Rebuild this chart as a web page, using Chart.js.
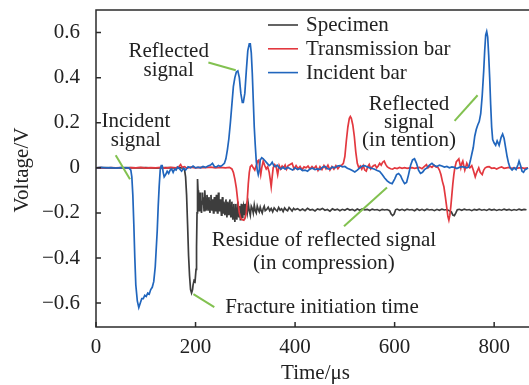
<!DOCTYPE html>
<html>
<head>
<meta charset="utf-8">
<script src="https://cdn.jsdelivr.net/npm/chart.js@4.4.1/dist/chart.umd.min.js"></script>
<style>
  html, body { margin: 0; padding: 0; background: #fff; }
  #wrap { width: 529px; height: 385px; position: relative; }
</style>
</head>
<body>
<div id="wrap"><canvas id="myChart"></canvas></div>
<script>
// series names in legend order
const seriesNames = ['Specimen', 'Transmission bar', 'Incident bar']

const xTicks = [0, 200, 400, 600, 800]
const yTicks = [-0.6, -0.4, -0.2, 0, 0.2, 0.4, 0.6]

// [time (us), voltage (V)]
const specimen = [
  [0,0],[20,0.001],[40,-0.001],[60,0.001],[80,0],[100,0.001],[120,-0.001],[140,0.001],[160,0],[170,0.001],[175,0],
  [178,-0.01],[180,-0.04],[182,-0.12],[184,-0.25],[186,-0.39],[188,-0.48],[190,-0.54],[192,-0.555],[194,-0.54],
  [195,-0.52],[197,-0.5],[199,-0.505],[201,-0.45],[202,-0.35],[203,-0.2],
  [204,-0.05],[205,-0.1],[206,-0.17],[207,-0.19],[208,-0.14],[209,-0.11],[210,-0.13],[211,-0.18],[212,-0.2],[213,-0.15],
  [214,-0.11],[215,-0.16],[216,-0.13],[217,-0.19],[218,-0.14],[219,-0.1],[220,-0.15],[221,-0.19],[222,-0.17],[223,-0.12],
  [224,-0.14],[225,-0.19],[226,-0.16],[227,-0.13],[228,-0.18],[229,-0.2],[230,-0.15],[231,-0.12],[232,-0.16],[233,-0.19],
  [234,-0.14],[235,-0.17],[236,-0.2],[237,-0.15],[238,-0.13],[239,-0.17],[240,-0.19],[241,-0.15],[242,-0.12],[243,-0.17],
  [244,-0.2],[245,-0.16],[246,-0.11],[247,-0.15],[248,-0.19],[249,-0.17],[250,-0.14],[251,-0.18],[252,-0.21],[253,-0.16],
  [254,-0.13],[255,-0.18],[256,-0.2],[257,-0.15],[258,-0.17],[259,-0.21],[260,-0.18],[261,-0.14],[262,-0.17],[263,-0.22],
  [264,-0.19],[265,-0.15],[266,-0.18],[267,-0.21],[268,-0.16],[269,-0.14],[270,-0.19],[271,-0.22],[272,-0.17],[273,-0.15],
  [274,-0.2],[275,-0.23],[276,-0.18],[277,-0.16],[278,-0.2],[279,-0.24],[280,-0.19],[281,-0.16],[282,-0.21],[283,-0.23],
  [284,-0.18],[285,-0.15],[286,-0.2],[287,-0.22],[288,-0.17],[289,-0.19],[290,-0.23],[291,-0.2],[292,-0.16],[293,-0.19],
  [294,-0.22],[295,-0.18],[296,-0.17],[297,-0.21],[298,-0.19],[299,-0.16],[300,-0.2],
  [302,-0.17],[304,-0.2],[306,-0.16],[308,-0.19],[310,-0.21],[312,-0.17],[314,-0.18],[316,-0.2],[318,-0.165],[320,-0.19],
  [322,-0.2],[324,-0.17],[326,-0.185],[328,-0.195],[330,-0.175],[332,-0.19],[334,-0.2],[336,-0.18],[338,-0.17],[340,-0.19],
  [343,-0.185],[346,-0.175],[349,-0.19],[352,-0.18],[355,-0.195],[358,-0.178],[361,-0.186],[364,-0.192],[367,-0.176],
  [370,-0.188],[373,-0.182],[376,-0.194],[379,-0.178],[382,-0.186],[385,-0.19],[388,-0.176],[391,-0.184],[394,-0.192],
  [397,-0.18],[400,-0.186],
  [405,-0.181],[410,-0.189],[415,-0.183],[420,-0.19],[425,-0.18],[430,-0.187],[435,-0.184],[440,-0.191],[445,-0.182],
  [450,-0.186],[455,-0.18],[460,-0.188],[465,-0.185],[470,-0.192],[475,-0.182],[480,-0.187],[485,-0.183],[490,-0.19],
  [495,-0.184],[500,-0.188],[505,-0.181],[510,-0.187],[515,-0.184],[520,-0.19],[525,-0.183],[530,-0.188],[535,-0.182],
  [540,-0.186],[545,-0.184],[550,-0.189],[555,-0.183],[560,-0.187],[565,-0.185],[570,-0.19],[575,-0.184],[580,-0.187],
  [585,-0.185],[590,-0.19],[593,-0.205],[596,-0.212],[599,-0.205],[602,-0.186],[605,-0.183],[610,-0.188],[615,-0.184],
  [620,-0.189],[625,-0.183],[630,-0.187],[635,-0.185],[640,-0.19],[645,-0.183],[650,-0.188],[655,-0.184],[660,-0.189],
  [665,-0.183],[670,-0.187],[675,-0.185],[680,-0.19],[685,-0.184],[690,-0.188],[695,-0.183],[700,-0.187],[705,-0.185],
  [710,-0.19],[714,-0.195],[717,-0.21],[720,-0.212],[723,-0.2],[726,-0.186],[730,-0.184],[735,-0.188],[740,-0.183],
  [745,-0.187],[750,-0.185],[755,-0.19],[760,-0.184],[765,-0.187],[770,-0.183],[775,-0.188],[780,-0.185],[785,-0.189],
  [790,-0.183],[795,-0.187],[800,-0.184],[805,-0.189],[810,-0.185],[815,-0.188],[820,-0.183],[825,-0.187],[830,-0.184],
  [835,-0.189],[840,-0.185],[845,-0.188],[850,-0.183],[855,-0.187],[860,-0.184],[865,-0.186]
]

const transmissionBar = [
  [0,0],[10,0.001],[20,-0.001],[30,0.001],[40,0],[50,0.001],[60,-0.001],[70,0.001],[80,0],[90,0.002],[100,-0.001],
  [110,0.001],[120,0],[130,0.002],[140,-0.001],[150,0.002],[160,0],[166,0.004],[170,0.015],[173,0.002],[178,0.005],
  [182,-0.002],[190,0.003],[200,0],[210,0.002],[220,0.001],[230,0.003],[240,0],[250,0.002],[260,0],[268,0.002],
  [273,-0.005],[276,-0.02],[279,-0.05],[282,-0.09],[285,-0.15],[288,-0.2],[291,-0.225],[294,-0.23],[297,-0.232],
  [300,-0.22],[302,-0.2],[304,-0.14],[306,-0.07],[308,-0.02],[310,0.005],[313,0.012],[316,0],[319,-0.01],[322,0.01],
  [325,0.03],[327,0.034],[329,0],[331,-0.03],[333,0],[336,0.03],[339,0.01],[342,-0.005],[345,0.005],[348,-0.02],
  [350,-0.05],[352,-0.084],[354,-0.04],[356,0],[359,0.014],[362,0.005],[365,-0.03],[368,0.01],[371,-0.005],[374,0.008],
  [377,0],[380,0.012],[383,-0.006],[386,0.01],[390,0.015],[394,0.02],[398,-0.005],[402,0.01],[406,-0.004],[410,0.006],
  [414,-0.008],[418,0.004],[422,0],[426,0.008],[430,-0.005],[434,0.006],[438,-0.003],[442,0.008],[446,-0.012],
  [450,0.005],[454,-0.008],[458,0.01],[462,-0.004],[466,0.012],[470,-0.01],[474,0.006],[478,-0.006],[482,0.01],
  [486,-0.004],[490,0.008],[494,0.012],[497,0.02],[500,0.05],[503,0.12],[506,0.18],[509,0.22],[511,0.228],[513,0.22],
  [516,0.19],[519,0.14],[522,0.07],[525,0.02],[528,0],[531,0.008],[534,-0.006],[537,0.01],[540,-0.01],[543,-0.015],
  [546,0.005],[549,0.015],[552,-0.005],[555,0.004],[558,0.01],[561,0.012],[564,0],[567,0.008],[570,0.02],[573,0.012],
  [576,0.025],[579,0.03],[582,0.015],[585,0.005],[588,0],[592,-0.004],[596,-0.006],[600,0],[605,-0.003],[610,0.002],
  [615,-0.002],[620,0.001],[625,-0.002],[630,0],[635,0.001],[640,-0.002],[645,0],[650,0.002],[655,-0.004],[660,0.006],
  [664,0.014],[667,0],[671,0.008],[675,0.002],[679,0.012],[683,0.004],[687,0.002],[690,-0.01],[693,-0.03],[696,-0.06],
  [699,-0.084],[702,-0.13],[705,-0.18],[707,-0.215],[709,-0.232],[711,-0.21],[713,-0.17],[715,-0.12],[717,-0.07],
  [719,-0.03],[721,0],[724,0.027],[727,0.035],[729,0.04],[731,0.02],[733,0],[735,0.02],[737,0.03],[739,0.01],
  [741,-0.01],[743,0.005],[745,0.02],[748,0.005],[751,0],[755,0.01],[758,-0.01],[762,-0.04],[765,-0.02],[769,0],
  [772,-0.02],[776,-0.03],[779,-0.01],[782,0],[786,0.004],[790,0.005],[795,-0.002],[800,0],[805,-0.005],[810,0],
  [815,0.004],[820,-0.002],[825,0],[830,0.002],[835,-0.002],[840,0],[845,-0.002],[850,0],[855,0.001],[860,-0.002],[868,0]
]

const incidentBar = [
  [0,0],[10,0.002],[20,0],[30,0.001],[40,-0.001],[50,0.001],[60,0],[66,0],[70,-0.01],[72,-0.04],[74,-0.12],[76,-0.25],
  [78,-0.4],[80,-0.52],[83,-0.59],[86,-0.62],[89,-0.6],[92,-0.58],[95,-0.58],[98,-0.565],[101,-0.57],[104,-0.555],
  [107,-0.56],[110,-0.54],[113,-0.53],[116,-0.505],[119,-0.44],[121,-0.36],[123,-0.28],[125,-0.17],[127,-0.08],
  [129,-0.01],[131,0.01],[133,0.01],[135,-0.02],[137,-0.04],[140,-0.03],[143,-0.015],[146,-0.025],[149,-0.01],
  [152,-0.005],[155,-0.02],[158,-0.005],[161,-0.01],[164,0.003],[168,-0.005],[172,-0.015],[176,-0.002],[180,-0.01],
  [185,0.005],[190,0],[195,0.008],[200,0],[205,0.003],[210,0],[215,0.006],[220,0.002],[225,0.008],[230,0.012],
  [234,0.02],[238,0.005],[242,0.004],[246,0.01],[250,0.006],[254,0.012],[258,0.02],[261,0.04],[264,0.08],[267,0.13],
  [270,0.2],[273,0.28],[276,0.36],[279,0.4],[282,0.425],[285,0.43],[288,0.4],[291,0.33],[294,0.29],[296,0.29],
  [299,0.33],[302,0.43],[305,0.52],[308,0.55],[310,0.55],[312,0.51],[314,0.42],[316,0.3],[318,0.18],[320,0.1],
  [322,0.03],[324,-0.01],[326,-0.03],[328,-0.01],[330,0.035],[333,0.045],[336,0.04],[340,0.03],[344,0.02],[348,0.01],
  [351,0.015],[354,0.025],[357,0.01],[360,0.005],[364,0.012],[368,0],[372,-0.005],[376,0.003],[380,-0.006],[385,0.002],
  [390,-0.004],[395,-0.01],[400,0],[405,-0.008],[410,-0.003],[415,-0.012],[420,-0.01],[425,-0.015],[430,-0.005],
  [435,-0.002],[440,-0.008],[445,-0.005],[450,-0.008],[455,0.003],[460,0.006],[465,-0.004],[470,-0.006],[475,0.004],
  [480,0],[485,0.008],[490,0.01],[495,0.004],[500,0.006],[505,-0.002],[510,-0.006],[515,-0.012],[520,-0.018],
  [525,-0.01],[530,0],[535,0.008],[540,0.01],[545,0.004],[550,0],[555,-0.003],[560,-0.006],[565,-0.012],[570,-0.016],
  [575,-0.03],[580,-0.045],[585,-0.058],[590,-0.066],[595,-0.07],[600,-0.05],[604,-0.03],[608,-0.025],[612,-0.035],
  [616,-0.055],[620,-0.07],[624,-0.065],[628,-0.03],[632,0.01],[636,0.035],[640,0.04],[644,0.02],[648,-0.01],
  [652,-0.025],[656,-0.02],[660,-0.008],[665,0],[670,0.012],[675,0.02],[680,0.01],[685,0.006],[690,0.012],[695,0.008],
  [700,0.003],[705,0.006],[710,0],[715,0.004],[720,0.002],[725,-0.003],[730,0.002],[735,0.005],[740,0.003],[745,0],
  [749,0.004],[752,0.03],[755,0.06],[758,0.09],[761,0.14],[764,0.17],[767,0.19],[770,0.205],[773,0.24],[776,0.32],
  [779,0.43],[781,0.52],[783,0.59],[785,0.605],[787,0.58],[789,0.5],[791,0.4],[793,0.28],[795,0.18],[797,0.125],
  [800,0.11],[803,0.1],[806,0.12],[810,0.1],[814,0.135],[817,0.15],[820,0.13],[823,0.09],[826,0.05],[829,0.02],
  [832,0],[836,-0.01],[840,0],[844,-0.008],[848,0.015],[850,0.03],[853,0.01],[856,-0.015],[859,-0.02],[862,-0.008],
  [865,-0.005],[868,0]
]

const colors = {
  specimen: '#3d3d3d',
  transmission: '#e3383f',
  incident: '#2166bd',
  leader: '#82c150',
  axis: '#2b2b2b',
  text: '#222'
}

const FONT = '21px "Liberation Serif", "Times New Roman", serif'

// callouts: leader line [t1, v1, t2, v2] and text lines at (t, v) with line gap in px
const callouts = [
  { lines: ['Incident', 'signal'], at: [80, 0.181], gap: 18.5, leader: [39.6, 0.056, 68.3, -0.051] },
  { lines: ['Reflected', 'signal'], at: [146, 0.491], gap: 19, leader: [225.8, 0.467, 280.8, 0.433] },
  { lines: ['Reflected', 'signal', '(in tention)'], at: [629, 0.256], gap: 18, leader: [720.5, 0.208, 766.7, 0.322] },
  { lines: ['Residue of reflected signal', '(in compression)'], at: [458, -0.347], gap: 22.5, leader: [498.3, -0.259, 584.7, -0.087] },
  { lines: ['Fracture initiation time'], at: [454, -0.644], gap: 0, leader: [195.7, -0.56, 237.7, -0.618] }
]

const fmtY = v => v === 0 ? '0' : (v < 0 ? '\u2212' + Math.abs(v).toFixed(1) : v.toFixed(1))

const decor = {
  id: 'decor',
  afterDatasetsDraw(chart) {
    const { ctx, chartArea: a, scales: { x, y } } = chart
    ctx.save()

    // frame: left, bottom, top (right edge sits outside the canvas)
    ctx.strokeStyle = colors.axis
    ctx.lineWidth = 1.5
    ctx.beginPath()
    ctx.moveTo(a.right + 2, a.top)
    ctx.lineTo(a.left, a.top)
    ctx.lineTo(a.left, a.bottom)
    ctx.lineTo(a.right + 2, a.bottom)
    ctx.stroke()

    // inward ticks
    ctx.beginPath()
    xTicks.forEach(v => {
      const px = x.getPixelForValue(v)
      ctx.moveTo(px, a.bottom)
      ctx.lineTo(px, a.bottom - 5)
    })
    yTicks.forEach(v => {
      const py = y.getPixelForValue(v)
      ctx.moveTo(a.left, py)
      ctx.lineTo(a.left + 5, py)
    })
    ctx.stroke()

    // callouts
    ctx.font = FONT
    ctx.fillStyle = colors.text
    ctx.textAlign = 'center'
    ctx.textBaseline = 'alphabetic'
    callouts.forEach(c => {
      const [t1, v1, t2, v2] = c.leader
      ctx.strokeStyle = colors.leader
      ctx.lineWidth = 2
      ctx.beginPath()
      ctx.moveTo(x.getPixelForValue(t1), y.getPixelForValue(v1))
      ctx.lineTo(x.getPixelForValue(t2), y.getPixelForValue(v2))
      ctx.stroke()
      const tx = x.getPixelForValue(c.at[0])
      const ty = y.getPixelForValue(c.at[1])
      c.lines.forEach((s, i) => ctx.fillText(s, tx, ty + i * c.gap))
    })

    // legend
    const legendColors = [colors.specimen, colors.transmission, colors.incident]
    ctx.textAlign = 'left'
    seriesNames.forEach((name, i) => {
      const ly = 25 + i * 23.8
      ctx.strokeStyle = legendColors[i]
      ctx.lineWidth = 1.6
      ctx.beginPath()
      ctx.moveTo(268, ly)
      ctx.lineTo(298, ly)
      ctx.stroke()
      ctx.fillText(name, 306, ly + 6)
    })

    // axis titles
    ctx.textAlign = 'center'
    ctx.fillText('Time/\u03bcs', (a.left + a.right) / 2 + 3, 379)
    ctx.translate(28, 170)
    ctx.rotate(-Math.PI / 2)
    ctx.fillText('Voltage/V', 0, 0)

    ctx.restore()
  }
}

const toXY = arr => arr.map(p => ({ x: p[0], y: p[1] }))

const lineStyle = {
  borderWidth: 1.7,
  pointRadius: 0,
  tension: 0,
  fill: false
}

const canvas = document.getElementById('myChart')

new Chart(canvas, {
  type: 'line',
  data: {
    datasets: [
      { label: seriesNames[2], data: toXY(incidentBar), borderColor: colors.incident, order: 0, ...lineStyle },
      { label: seriesNames[1], data: toXY(transmissionBar), borderColor: colors.transmission, order: 1, ...lineStyle },
      { label: seriesNames[0], data: toXY(specimen), borderColor: colors.specimen, order: 2, ...lineStyle }
    ]
  },
  options: {
    responsive: true,
    maintainAspectRatio: false,
    animation: false,
    layout: { padding: { top: 10, right: 0, left: 0, bottom: 0 } },
    plugins: {
      legend: { display: false },
      tooltip: { enabled: false }
    },
    scales: {
      x: {
        type: 'linear',
        min: 0,
        max: 870,
        grid: { display: false },
        border: { display: false },
        afterBuildTicks: s => { s.ticks = xTicks.map(v => ({ value: v })) },
        afterFit: s => { s.height = 58; s.paddingLeft = 0; s.paddingRight = 0 },
        ticks: {
          autoSkip: false,
          maxRotation: 0,
          padding: 0,
          color: colors.text,
          font: { family: '"Liberation Serif", serif', size: 21 }
        }
      },
      y: {
        type: 'linear',
        min: -0.706,
        max: 0.7,
        grid: { display: false },
        border: { display: false },
        afterBuildTicks: s => { s.ticks = yTicks.map(v => ({ value: v })) },
        afterFit: s => { s.width = 96; s.paddingTop = 0; s.paddingBottom = 0 },
        ticks: {
          autoSkip: false,
          padding: 8,
          color: colors.text,
          font: { family: '"Liberation Serif", serif', size: 21 },
          callback: v => fmtY(Math.round(v * 10) / 10)
        }
      }
    }
  },
  plugins: [decor]
})
</script>
</body>
</html>
